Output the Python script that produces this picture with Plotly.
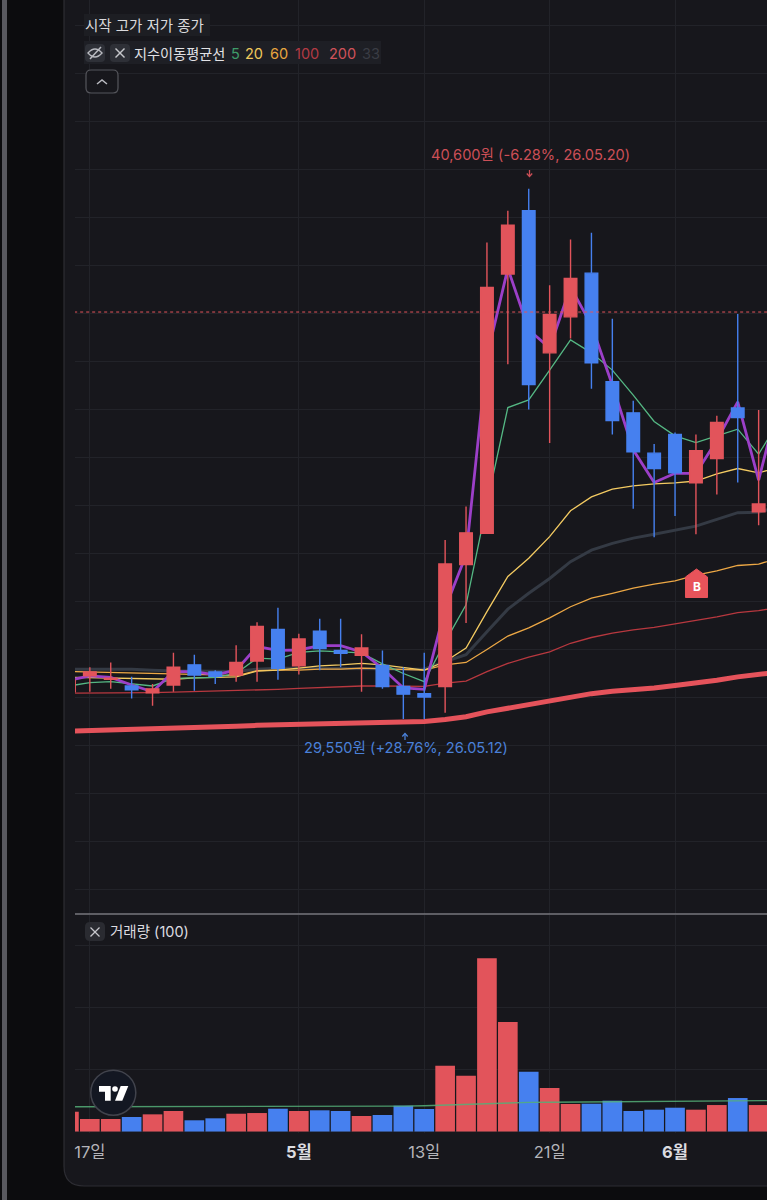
import plotly.graph_objects as go

W, H = 767, 1200
RED, BLUE = "#e2545b", "#4680ef"

# ---------- data ----------
sessions = list(range(-1, 33))
ma_sessions = list(range(-1, 34))
opens = [30120,30450,30380,30240,30100,30260,30680,30530,30470,30760,31420,30660,31380,30980,30880,30670,30230,30080,30230,32770,33420,38820,40140,37180,37930,38840,36580,35930,35090,35480,34470,34980,36030,33870]
closes = [30360,30530,30400,30160,30180,30630,30470,30440,30730,31480,30610,31220,31020,30920,31030,30230,30070,30010,32780,33430,38540,39840,36520,37980,38730,36970,35770,35120,34770,34680,35140,35730,35830,34030]
highs = [30450,30630,30730,30430,30280,30930,30890,30570,31090,31570,31870,31330,31640,31640,31320,30980,30630,30930,33280,33980,39480,40140,40600,38590,39540,39680,37890,36180,35280,35520,35480,35870,37990,35990]
lows = [30110,30120,30180,29980,29830,30120,30140,30280,30330,30330,30370,30480,30570,30630,30120,30180,29550,29550,29680,31550,33420,36940,36000,35300,37480,36430,35480,33930,33340,33780,33400,34230,34480,33590]
ma_close = [30360,30450,30420,30260,30120,30540,30540,30470,30570,31060,30980,30990,31080,31080,30950,30610,30200,30170,31860,32970,37100,38940,37660,37280,38550,37760,36510,35160,34480,34670,34670,35360,36160,34530,36240]
ma5 = [30240,30310,30330,30280,30240,30400,30410,30420,30500,30820,30800,30940,30970,30950,30930,30700,30500,30330,31160,31930,34040,36040,36200,36820,37450,37180,36820,36300,35750,35450,35310,35450,35590,35070,35780]
ma20 = [30420,30410,30410,30390,30380,30380,30410,30420,30430,30550,30570,30610,30660,30680,30710,30680,30620,30570,30750,31030,31790,32520,32900,33350,33890,34180,34340,34410,34450,34470,34510,34660,34770,34680,34800]
ma60 = [30540,30530,30530,30520,30510,30500,30490,30470,30450,30560,30570,30570,30590,30590,30610,30600,30590,30570,30680,30730,31000,31280,31450,31660,31890,32070,32170,32280,32360,32430,32550,32640,32750,32780,32910]
ma100 = [30090,30090,30090,30100,30100,30110,30120,30130,30140,30160,30170,30190,30210,30230,30240,30240,30230,30230,30300,30340,30540,30710,30840,30950,31130,31250,31340,31410,31460,31530,31600,31680,31770,31810,31880]
ma200 = [29300,29310,29320,29340,29350,29360,29380,29390,29400,29420,29430,29440,29460,29470,29480,29480,29490,29500,29540,29600,29700,29780,29850,29940,30010,30080,30130,30160,30200,30250,30300,30360,30430,30470,30530]
ma33 = [30590,30590,30590,30590,30570,30550,30550,30540,30540,30590,30610,30610,30610,30600,30600,30600,30590,30590,30750,30890,31370,31840,32170,32480,32830,33070,33210,33320,33400,33490,33570,33710,33850,33860,33980]
volumes = [319,202,202,234,277,331,181,213,287,298,368,331,342,331,250,266,416,363,1061,900,2794,1766,965,702,444,448,497,331,352,384,352,427,540,427]
vol_ma = [400,400,401,401,402,402,403,403,404,404,405,405,406,406,407,408,410,415,425,435,450,465,470,472,474,476,478,480,482,485,488,491,494,497,500]
current_price = 38030
tick_sessions = [0, 10, 16, 22, 28]
tick_labels = ["17일", '<b><span style="color:#dcdce0">5월</span></b>', "13일", "21일", '<b><span style="color:#dcdce0">6월</span></b>']
price_ticks = list(range(26000, 45000, 1000))
vol_ticks = [0, 1000, 2000, 3000]
legend_names = ["5", "20", "60", "100", "200", "33"]
ohlc_title = "시작 고가 저가 종가"
ma_title = "지수이동평균선"
vol_title = "거래량 (100)"
high_note = "40,600원 (-6.28%, 26.05.20)"
low_note = "29,550원 (+28.76%, 26.05.12)"

# ---------- layout helpers ----------
def fx(p): return p / W
def fy(p): return 1 - p / H
def poly(points, close=True):
    d = "M" + " L".join(f"{fx(a):.5f},{fy(b):.5f}" for a, b in points)
    return d + (" Z" if close else "")

FONT = "Inter, 'Noto Sans CJK KR'"
annos = []
def label(text, x, y, color, size=13, anchor="left"):
    annos.append(dict(text=text, xref="paper", yref="paper", x=fx(x), y=fy(y), xanchor=anchor,
                      yanchor="middle", showarrow=False, font=dict(family=FONT, size=size, color=color),
                      borderpad=0, borderwidth=0))

shapes = []
def rect(x0, y0, x1, y1, fill, line="rgba(0,0,0,0)", lw=0, layer="above"):
    shapes.append(dict(type="rect", xref="paper", yref="paper", x0=fx(x0), x1=fx(x1), y0=fy(y0), y1=fy(y1),
                       fillcolor=fill, line=dict(color=line, width=lw), layer=layer))
def path(points, fill="rgba(0,0,0,0)", line="rgba(0,0,0,0)", lw=0, close=True, layer="above"):
    shapes.append(dict(type="path", xref="paper", yref="paper", path=poly(points, close),
                       fillcolor=fill, line=dict(color=line, width=lw), layer=layer))
def rrect(x0, y0, x1, y1, r, fill, line="rgba(0,0,0,0)", lw=0, layer="above"):
    a, b, c, d = fx(x0), fx(x1), fy(y0), fy(y1)
    rx, ry = r / W, r / H
    p = (f"M{a+rx},{c} L{b-rx},{c} Q{b},{c} {b},{c-ry} L{b},{d+ry} Q{b},{d} {b-rx},{d} "
         f"L{a+rx},{d} Q{a},{d} {a},{d+ry} L{a},{c-ry} Q{a},{c} {a+rx},{c} Z")
    shapes.append(dict(type="path", xref="paper", yref="paper", path=p, fillcolor=fill,
                       line=dict(color=line, width=lw), layer=layer))
def circle(cx, cy, r, fill, line="rgba(0,0,0,0)", lw=0):
    shapes.append(dict(type="circle", xref="paper", yref="paper", x0=fx(cx-r), x1=fx(cx+r), y0=fy(cy-r), y1=fy(cy+r),
                       fillcolor=fill, line=dict(color=line, width=lw), layer="above"))

# page furniture
rect(0, 0, 767, 1200, "#0c0c0e", layer="below")
rect(2, 0, 7, 1200, "#59595f", layer="below")
rrect(64, -40, 830, 1186, 20, "#17171c", "#2d2d33", 1.2, layer="below")

# legend chips
rect(84, 14, 210, 36, "#1d1e23")
rect(84, 41, 381, 64, "#1e1f25")
rrect(85, 44, 105, 62, 4, "#2e3037")
rrect(110, 44, 130, 62, 4, "#2e3037")
# eye-off icon
shapes.append(dict(type="path", xref="paper", yref="paper", layer="above", line=dict(color="#b9bac0", width=1.4),
                   fillcolor="rgba(0,0,0,0)",
                   path=f"M{fx(88)},{fy(53)} Q{fx(95)},{fy(45)} {fx(102)},{fy(53)} Q{fx(95)},{fy(61)} {fx(88)},{fy(53)} Z"))
path([(90, 59), (101, 47)], line="#b9bac0", lw=1.5, close=False)
path([(115.5, 48.5), (124.5, 57.5)], line="#c6c7cc", lw=1.4, close=False)
path([(124.5, 48.5), (115.5, 57.5)], line="#c6c7cc", lw=1.4, close=False)
rrect(86, 70, 118, 93, 5, "#17171c", "#55565c", 1.2)
path([(97, 84), (102, 80), (107, 84)], line="#b9bac0", lw=1.5, close=False)

label(ohlc_title, 85, 25, "#d9d9dc", 14.5)
label(ma_title, 134, 53, "#e2e2e5", 14.2)
for name, x, col in zip(legend_names, [231, 245, 270, 295, 329, 362],
                        ["#3f9c69", "#f0c95c", "#e7a53f", "#b23a44", "#d0525a", "#3a3c44"]):
    label(name, x, 53, col, 14.5)

# pane separator and volume title
path([(75, 914), (767, 914)], line="#77777c", lw=1.5, close=False)
rrect(85, 922, 105, 941, 5, "#2a2b31")
path([(90.5, 927.5), (99.5, 936.5)], line="#c6c7cc", lw=1.3, close=False)
path([(99.5, 927.5), (90.5, 936.5)], line="#c6c7cc", lw=1.3, close=False)
label(vol_title, 110, 931, "#dcdce0", 14.5)

# high / low notes with little arrows
label(high_note, 530, 155, "#cc4f57", 14.6, "center")
path([(529.5, 170), (529.5, 176)], line="#cc4f57", lw=1.3, close=False)
path([(526.8, 173.5), (529.5, 176.5), (532.2, 173.5)], line="#cc4f57", lw=1.3, close=False)
label(low_note, 406, 748, "#4a80d8", 14.6, "center")
path([(405, 733.5), (405, 740)], line="#4a80d8", lw=1.3, close=False)
path([(402.3, 736.5), (405, 733.5), (407.7, 736.5)], line="#4a80d8", lw=1.3, close=False)

# B badge
path([(685.5, 597.5), (685.5, 577), (696.5, 569), (707.5, 577), (707.5, 597.5)], fill="#e8535a", line="#e8535a", lw=1)
label("<b>B</b>", 696.5, 586.5, "#ffffff", 12, "center")

# logo
circle(113.3, 1092.7, 22.5, "#131722", "#41434c", 1.5)
path([(99, 1086), (110.7, 1086), (110.7, 1100.7), (105, 1100.7), (105, 1091.7), (99, 1091.7)], fill="#ffffff")
circle(115, 1089, 2.8, "#ffffff")
path([(120.7, 1086), (128.3, 1086), (122.3, 1100.7), (115, 1100.7)], fill="#ffffff")

# current price line
shapes.append(dict(type="line", xref="x", yref="y", x0=-0.75, x1=32.4, y0=current_price, y1=current_price,
                   line=dict(color="#e2545b", width=1, dash="dot"), layer="above"))

# ---------- traces ----------
fig = go.Figure()
for vals, col, lw in [(ma200, "#e5535b", 5), (ma33, "#343a44", 3), (ma100, "#b8383f", 1.3), (ma60, "#eda845", 1.3),
                      (ma20, "#f4cb62", 1.3), (ma5, "#55b884", 1.3), (ma_close, "#9c3fc8", 2.8)]:
    fig.add_trace(go.Scatter(x=ma_sessions, y=vals, mode="lines", line=dict(color=col, width=lw), xaxis="x", yaxis="y",
                             showlegend=False, hoverinfo="skip"))
fig.add_trace(go.Candlestick(x=sessions, open=opens, high=highs, low=lows, close=closes, xaxis="x", yaxis="y3",
                             whiskerwidth=0, showlegend=False,
                             increasing=dict(line=dict(color=RED, width=1.4), fillcolor=RED),
                             decreasing=dict(line=dict(color=BLUE, width=1.4), fillcolor=BLUE)))
vol_colors = [RED if c >= o else BLUE for o, c in zip(opens, closes)]
fig.add_trace(go.Bar(x=sessions, y=volumes, width=0.94, marker=dict(color=vol_colors, line=dict(width=0)),
                     xaxis="x2", yaxis="y2", showlegend=False, hoverinfo="skip"))
fig.add_trace(go.Scatter(x=ma_sessions, y=vol_ma, mode="lines", line=dict(color="rgba(85,175,120,0.85)", width=1.4),
                         xaxis="x2", yaxis="y2", showlegend=False, hoverinfo="skip"))

GRID = "#222329"
xr = [-0.71, 32.4]
yr = [25490, 44530]
fig.update_layout(
    width=W, height=H, margin=dict(l=0, r=0, t=0, b=0), autosize=False,
    paper_bgcolor="#0c0c0e", plot_bgcolor="rgba(0,0,0,0)", showlegend=False, boxgap=0.14, barmode="overlay",
    font=dict(family=FONT), shapes=shapes, annotations=annos, hovermode=False,
    xaxis=dict(domain=[fx(75), 1], range=xr, anchor="y", tickmode="array", tickvals=tick_sessions, showticklabels=False,
               showgrid=True, gridcolor=GRID, gridwidth=1, zeroline=False, showline=False, ticks="",
               rangeslider=dict(visible=False)),
    yaxis=dict(domain=[fy(914), 1], range=yr, anchor="x", tickmode="array", tickvals=price_ticks, showticklabels=False,
               showgrid=True, gridcolor=GRID, zeroline=False, showline=False, ticks=""),
    yaxis3=dict(overlaying="y", range=yr, anchor="x", showticklabels=False, showgrid=False, zeroline=False,
                showline=False, ticks=""),
    xaxis2=dict(domain=[fx(75), 1], range=xr, anchor="y2", tickmode="array", tickvals=tick_sessions, ticktext=tick_labels,
                tickfont=dict(family=FONT, size=16.5, color="#b4b4b9"), showgrid=True, gridcolor=GRID, zeroline=False,
                showline=False, ticks="outside", ticklen=4, tickcolor="rgba(0,0,0,0)", tickangle=0),
    yaxis2=dict(domain=[fy(1133), fy(915)], range=[-24, 3492], anchor="x2", tickmode="array", tickvals=vol_ticks,
                showticklabels=False, showgrid=True, gridcolor=GRID, zeroline=False, showline=False, ticks=""),
)
fig.write_html("out.html", config=dict(displayModeBar=False),
               post_script="document.body.style.margin='0';document.body.style.background='#0c0c0e';document.body.style.overflow='hidden';")
